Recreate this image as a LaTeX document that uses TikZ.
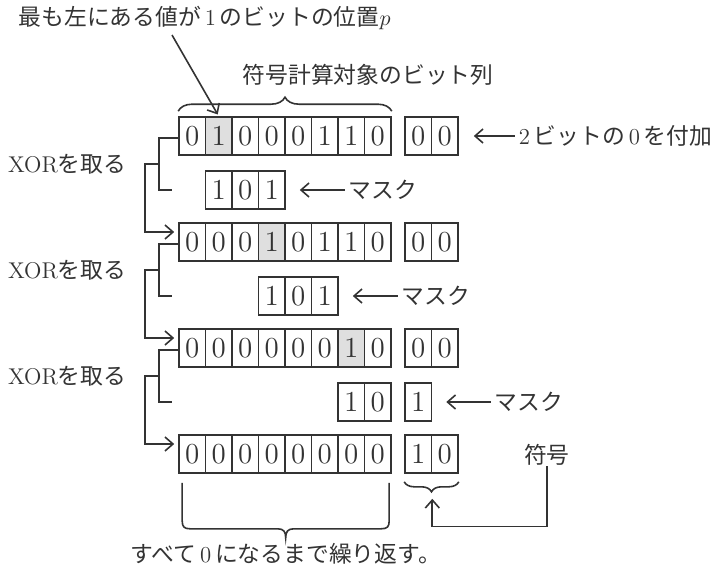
\documentclass[tikz,border=0pt]{standalone}
\usepackage{fontspec}
\newfontfamily\jp{Noto Sans CJK JP}
\usetikzlibrary{positioning}
\usetikzlibrary{arrows.meta}
\usetikzlibrary{decorations.pathreplacing}
\colorlet{ink}{black!80}
\tikzset{bit/.style={draw, minimum width=13.25pt, minimum height=19pt,
inner sep=0pt, font=\fontsize{14.5}{14.5}\selectfont},
note/.style={inner sep=0pt, font=\fontsize{11.4}{13}\selectfont}}

\begin{document}
\begin{tikzpicture}[x=0.5pt, y=-0.5pt, line width=0.8pt, color=ink,
  >={Straight Barb[length=4pt,width=7pt]}]
\useasboundingbox (0,0) rectangle (720,568);
% the four rows of bits, plus the two padding bits
\foreach \bits/\pad/\hi [count=\r] in {{0,1,0,0,0,1,1,0}/{0,0}/2,
    {0,0,0,1,0,1,1,0}/{0,0}/4, {0,0,0,0,0,0,1,0}/{0,0}/7,
    {0,0,0,0,0,0,0,0}/{1,0}/0}{
  \foreach \b [count=\i] in \bits {
    \ifnum\i=\hi \def\sh{gray!25}\else\def\sh{none}\fi
    \node[bit, fill=\sh] (r\r-\i) at ({179+26.5*(\i-0.5)},{136+106*(\r-1)}) {\b};
  }
  \foreach \b [count=\i] in \pad
    \node[bit] (p\r-\i) at ({405+26.5*(\i-0.5)},{136+106*(\r-1)}) {\b};
}
% masks
\foreach \b [count=\i] in {1,0,1}{
  \node[bit] (ma-\i) at ({205.5+26.5*(\i-0.5)},190) {\b};
  \node[bit] (mb-\i) at ({258.5+26.5*(\i-0.5)},296) {\b};
}
\node[bit] (mc-1) at (351.25,402) {1};
\node[bit] (mc-2) at (377.75,402) {0};
\node[bit] (mc-3) at (418.25,402) {1};

% XOR brackets on the left
\foreach \r [evaluate=\r as \n using int(\r+1)] in {1,2,3}{
  \draw (r\r-1.west) ++(0,2) -- ++(-19,0) -- ++(0,26) coordinate (j\r) -- ++(0,26) -- ++(13,0);
  \draw[->, shorten >=2pt] (j\r) -- ++(-14,0) |- ([yshift=5pt]r\n-1.west);
  \node[note, anchor=east] (xor\r) at ([xshift=-16pt]j\r) {XOR{\jp を取る}};
}

% top
\node[note, anchor=west] (pos) at (18,18) {{\jp 最も左にある値が}\,1\,{\jp のビットの位置}$p$};
\coordinate (ps) at (172,35);
\draw[->, shorten >=1pt] (ps) -- (r1-2.north);
\draw[decorate, decoration={brace, amplitude=7pt}] ([yshift=2.5pt]r1-1.north west) -- ([yshift=2.5pt]r1-8.north east);
\node[note, anchor=west] (tgt) at (242,75) {\jp 符号計算対象のビット列};

% notes on the right
\node[note, anchor=west] (add) at (518,136) {2\,{\jp ビットの}\,0\,{\jp を付加}};
\draw[->, shorten >=7.5pt, shorten <=1.5pt] (add.west) -- (p1-2.east);
\node[note, anchor=west] (ka) at (348,190) {\jp マスク};
\draw[->, shorten >=7pt, shorten <=1.5pt] (ka.west) -- (ma-3.east);
\node[note, anchor=west] (kb) at (401,296) {\jp マスク};
\draw[->, shorten >=7pt, shorten <=1.5pt] (kb.west) -- (mb-3.east);
\node[note, anchor=west] (kc) at (494,402) {\jp マスク};
\draw[->, shorten >=7pt, shorten <=1.5pt] (kc.west) -- (mc-3.east);

% code bits
\node[note] (code) at (547,455) {\jp 符号};
\coordinate (bt) at ([yshift=-10pt]p4-1.south east);
\draw[decorate, decoration={brace, amplitude=5pt}] ([yshift=-4pt]p4-2.south east) -- ([yshift=-4pt]p4-1.south west);
\draw[->, shorten >=2.5pt] (code.south) -- ++(0,60) -| (bt);

% repeat until all zero
\draw ([xshift=2pt,yshift=-4.5pt]r4-1.south west) -- ++(0,38)
  .. controls +(0,6) and +(-6,0) .. ++(8,8) -- ++(87.5,0)
  .. controls +(6,0) and +(0,-6) .. ++(8,9) coordinate (tip)
  .. controls +(0,-6) and +(-6,0) .. ++(8,-9) -- ++(87.5,0)
  .. controls +(6,0) and +(0,6) .. ++(8,-8) -- ++(0,-38);
\node[note, anchor=north] (rep) at ([yshift=-2.5pt]tip) {{\jp すべて}\,0\,{\jp になるまで繰り返す。}};
\end{tikzpicture}
\end{document}
